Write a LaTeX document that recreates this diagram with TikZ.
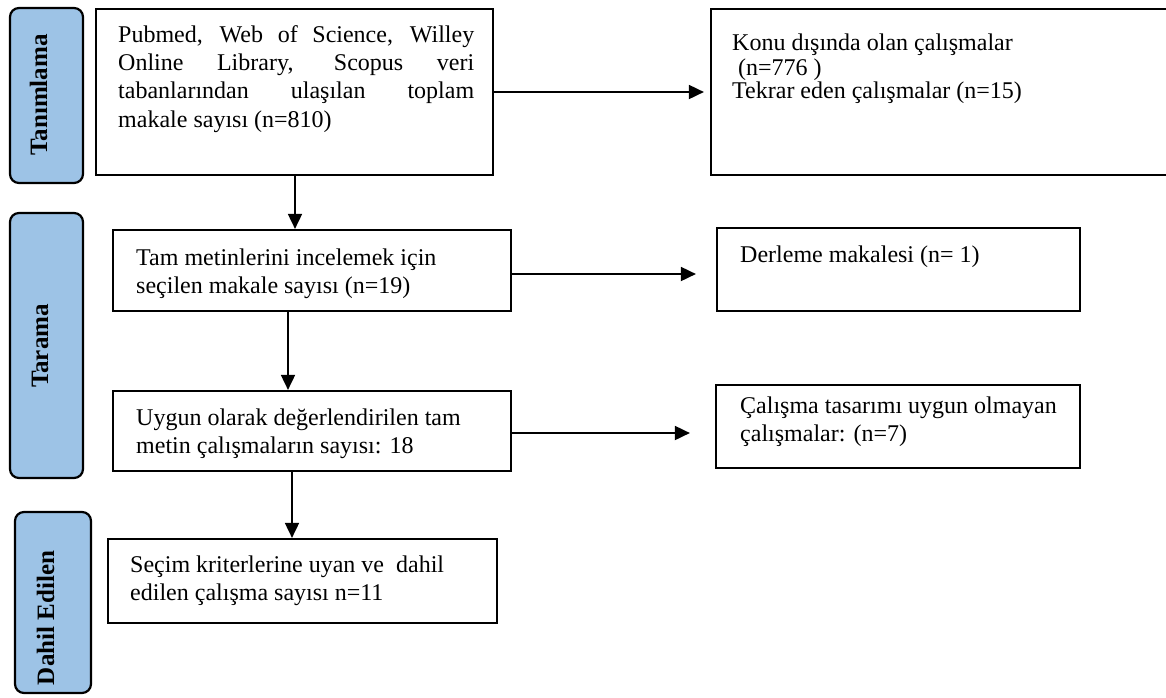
\documentclass[tikz,border=0pt]{standalone}
\usepackage{fontspec}
\setmainfont{Liberation Serif}
\usetikzlibrary{arrows.meta}
\newcommand\fsz{\fontsize{24}{28.3}\selectfont\hyphenpenalty=10000\exhyphenpenalty=10000\spaceskip=0.25em plus 2em minus 0em\relax}
\newcommand\fszb{\fontsize{25}{28.3}\selectfont\bfseries}
\tikzset{
  box/.style={draw=black, line width=2.2pt, inner sep=0pt},
  phase/.style={draw=black, line width=2.2pt, fill=phaseblue, rounded corners=9pt, inner sep=0pt},
  phasetxt/.style={font=\fszb, rotate=90, anchor=base, inner sep=0pt},
  txt/.style={font=\fsz, anchor=north west, inner sep=0pt, align=left},
  arr/.style={line width=1.8pt, -{Triangle[length=15pt,width=14pt]}},
}
\definecolor{phaseblue}{HTML}{9DC3E6}
\begin{document}
\begin{tikzpicture}[x=1pt,y=-1pt]
\useasboundingbox (0,0) rectangle (1166,697);
\clip (0,0) rectangle (1166,697);
\fill[white] (0,0) rectangle (1166,697);
% phase labels
\node[phase, minimum width=73pt, minimum height=175pt] (p1) at (46.5,95.5) {};
\node[phasetxt] (p1t) at (47,95) {Tanımlama};
\node[phase, minimum width=73pt, minimum height=265pt] (p2) at (46.5,345.5) {};
\node[phasetxt] (p2t) at (48,346) {Tarama};
\node[phase, minimum width=76pt, minimum height=181pt] (p3) at (53,602.5) {};
\node[phasetxt] (p3t) at (54,618) {Dahil Edilen};
% main boxes
\node[box, minimum width=397pt, minimum height=166pt] (b1) at (294.5,92) {};
\node[txt, text width=356pt, align=justify] (b1t) at (118,22.2) {\strut Pubmed, Web of Science, Willey\linebreak Online Library, Scopus veri\linebreak tabanlarından ulaşılan toplam\linebreak makale sayısı (n=810)};
\node[box, minimum width=464pt, minimum height=166pt] (r1) at (943,92) {};
\node[txt, font=\fontsize{24}{23.6}\selectfont] (r1t) at (732,33.5) {\strut Konu dışında olan çalışmalar\\\hspace*{0.25em}(n=776 )\\Tekrar eden çalışmalar (n=15)};
\node[box, minimum width=398pt, minimum height=81pt] (b2) at (312,270.5) {};
\node[txt] (b2t) at (136,245.2) {\strut Tam metinlerini incelemek için\\seçilen makale sayısı (n=19)};
\node[box, minimum width=363pt, minimum height=83pt] (r2) at (898.5,269.5) {};
\node[txt] (r2t) at (740,242.2) {\strut Derleme makalesi (n= 1)};
\node[box, minimum width=398pt, minimum height=80pt] (b3) at (312,431) {};
\node[txt] (b3t) at (136,405.2) {\strut Uygun olarak değerlendirilen tam\\metin çalışmaların sayısı: 18};
\node[box, minimum width=364pt, minimum height=83pt] (r3) at (898,426.5) {};
\node[txt] (r3t) at (740,393.2) {\strut Çalışma tasarımı uygun olmayan\\çalışmalar: (n=7)};
\node[box, minimum width=389pt, minimum height=84pt] (b4) at (302.5,581) {};
\node[txt] (b4t) at (130,552.2) {\strut Seçim kriterlerine uyan ve\ \ dahil\\edilen çalışma sayısı n=11};
% connectors
\draw[arr, shorten >=6pt] (b1.east |- 0,92) -- (r1.west |- 0,92);
\draw[arr] (b1.south -| 295,0) -- (b2.north -| 295,0);
\draw[arr, shorten >=20pt] (b2.east |- 0,274) -- (r2.west |- 0,274);
\draw[arr] (b2.south -| 288,0) -- (b3.north -| 288,0);
\draw[arr, shorten >=25pt] (b3.east |- 0,433) -- (r3.west |- 0,433);
\draw[arr] (b3.south -| 292,0) -- (b4.north -| 292,0);
\end{tikzpicture}
\end{document}
